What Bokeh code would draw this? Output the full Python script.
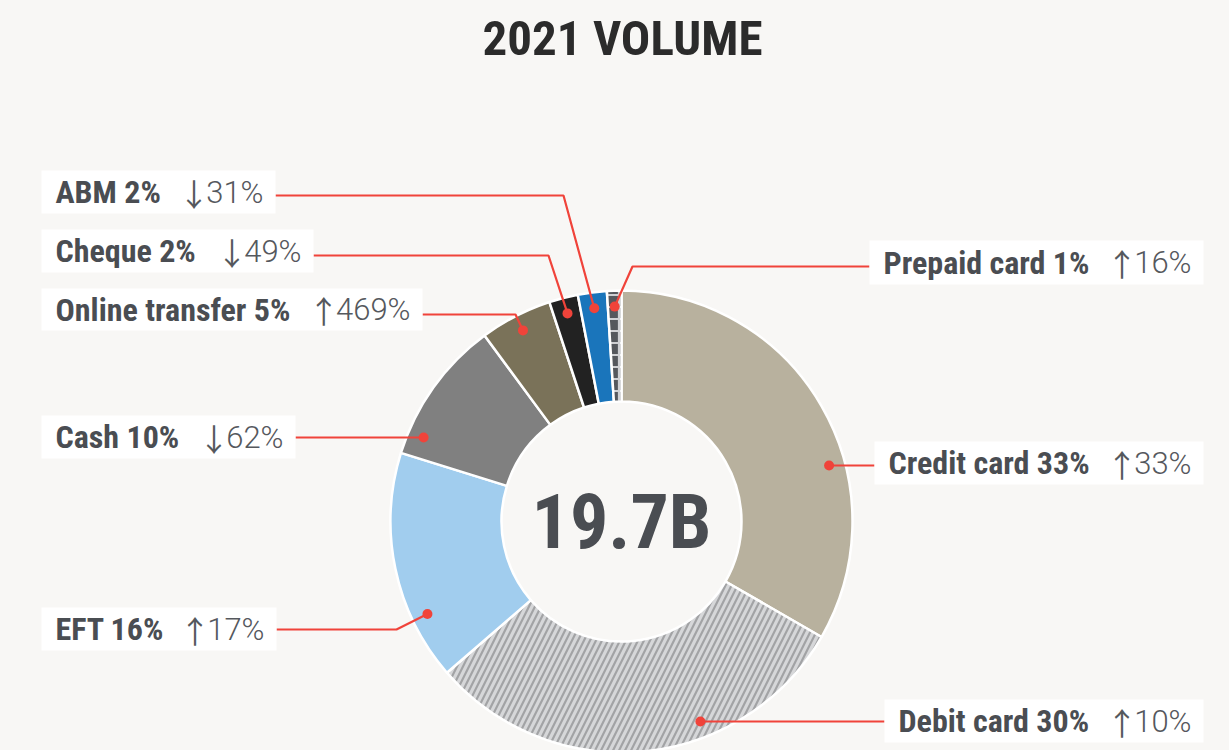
import numpy as np
from bokeh.plotting import figure
from bokeh.models import Range1d, ColumnDataSource
from bokeh.embed import file_html
from bokeh.resources import INLINE
from bokeh.core.properties import value

# ---------------- data ----------------
title_text = "2021 VOLUME"
total_label = "19.7B"
categories = ["Credit card", "Debit card", "EFT", "Cash", "Online transfer",
              "Cheque", "ABM", "Prepaid card"]
shares = [33, 30, 16, 10, 5, 2, 2, 1]            # share of volume, %
changes = [33, 10, 17, -62, 469, -49, -31, 16]    # change, %

# ---------------- styles ----------------
BG = "#f8f7f5"
fills = ["#b8b19e", "#d6d7d9", "#a1cdee", "#808080", "#7a7259", "#222222", "#1a75bb", "#55585d"]
hatches = [" ", "/", " ", " ", " ", " ", " ", "+"]
hatch_colors = ["#000000", "#a2a3a5", "#000000", "#000000", "#000000", "#000000", "#000000", "#cfd0d3"]
RED = "#f0433a"
FONT = "Roboto Condensed"
LIGHT = "Roboto Light"
ARROW_FONT = "Noto Sans CJK JP"
NUM_SIZE = 31

# ---------------- layout (page pixels) ----------------
W, H = 1229, 750
def Y(py):
    return H - py

CX, CY = 621, Y(521)
R_OUT, R_IN, R_DOT = 231, 120, 215

# label boxes: side, x0, x1, y0, y1, line y, elbow x (None = straight), anchor
layout = {
    "Credit card":     ("R", 874, 1203, 441, 484, 465, None, "level"),
    "Debit card":      ("R", 884, 1203, 699, 742, 721, None, "level"),
    "EFT":             ("L", 41, 276, 607, 650, 629, 396, 0.265),
    "Cash":            ("L", 41, 295, 415, 458, 437, None, "level"),
    "Online transfer": ("L", 41, 422, 288, 330, 314, 515, 0.5),
    "Cheque":          ("L", 41, 313, 229, 272, 255, 548, 0.5),
    "ABM":             ("L", 41, 275, 170, 213, 195, 563, 0.5),
    "Prepaid card":    ("R", 869, 1203, 240, 284, 266, 632, 0.5),
}

p = figure(width=W, height=H, x_range=Range1d(0, W), y_range=Range1d(0, H),
           output_backend="svg", toolbar_location=None, min_border=0)
p.axis.visible = False
p.grid.visible = False
p.outline_line_color = None
p.background_fill_color = BG
p.border_fill_color = BG

# ---------------- donut ----------------
sh = np.array(shares, dtype=float)
frac = sh / sh.sum()
cum_after = np.cumsum(frac)
cum_before = cum_after - frac
a_start = np.pi / 2 - 2 * np.pi * cum_after     # anticlockwise start
a_end = np.pi / 2 - 2 * np.pi * cum_before

src = ColumnDataSource(dict(start=a_start, end=a_end, fill=fills, hatch=hatches,
                            hcol=hatch_colors, name=categories))
p.annular_wedge(x=CX, y=CY, inner_radius=R_IN, outer_radius=R_OUT,
                start_angle="start", end_angle="end", source=src,
                fill_color="fill", hatch_pattern="hatch", hatch_color="hcol",
                hatch_scale=12, hatch_weight=2.2,
                line_color="white", line_width=2.5)

# center text
p.text(x=[CX], y=[CY], text=[total_label], text_font=value(FONT), text_font_style="bold",
       text_font_size="76px", text_color="#4a4d52", text_align="center", text_baseline="middle")

# title
p.text(x=[CX + 1], y=[Y(38)], text=[title_text], text_font=value(FONT), text_font_style="bold",
       text_font_size="49px", text_color="#2b2b2b", text_align="center", text_baseline="middle")

# ---------------- labels ----------------
bx0, bx1, by0, by1 = [], [], [], []
lx, ly = [], []
dx, dy = [], []
bold_x, bold_y, bold_t = [], [], []
num_x, num_y, num_t = [], [], []
arr_x, arr_y, arr_t = [], [], []
for i, c in enumerate(categories):
    side, x0, x1, y0, y1, liney, elbow, anchor = layout[c]
    bx0.append(x0); bx1.append(x1); by0.append(Y(y1)); by1.append(Y(y0))
    ymid = Y((y0 + y1) / 2)
    bold_x.append(x0 + 14); bold_y.append(ymid)
    bold_t.append(f"{c} {shares[i]}%")
    digits = f"{abs(changes[i])}%"
    num_x.append(x1 - 12); num_y.append(ymid)
    num_t.append(digits)
    # approximate width of the light number text (Roboto Light advances)
    wnum = (len(digits) - 1) * 0.5615 * NUM_SIZE + 0.73 * NUM_SIZE
    arr_x.append(x1 - 12 - wnum - 12); arr_y.append(ymid)
    arr_t.append("↑" if changes[i] >= 0 else "↓")
    # anchor dot
    if anchor == "level":
        yy = Y(liney) - CY
        xx = np.sqrt(R_DOT ** 2 - yy ** 2) * (1 if side == "R" else -1)
        px_, py_ = CX + xx, CY + yy
    else:
        ang = a_end[i] - anchor * (a_end[i] - a_start[i])
        px_, py_ = CX + R_DOT * np.cos(ang), CY + R_DOT * np.sin(ang)
    dx.append(px_); dy.append(py_)
    edge = x1 if side == "L" else x0
    if elbow is None:
        lx.append([edge, px_]); ly.append([Y(liney), py_])
    else:
        lx.append([edge, elbow, px_]); ly.append([Y(liney), Y(liney), py_])

p.multi_line(xs=lx, ys=ly, line_color=RED, line_width=2.2)
p.scatter(x=dx, y=dy, size=10, fill_color=RED, line_color=None)
p.quad(left=bx0, right=bx1, bottom=by0, top=by1, fill_color="white", line_color=None)
p.text(x=bold_x, y=bold_y, text=bold_t, text_font=value(FONT), text_font_style="bold",
       text_font_size="32px", text_color="#4a4d52", text_align="left", text_baseline="middle")
p.text(x=num_x, y=num_y, text=num_t, text_font=value(LIGHT), text_font_style="normal",
       text_font_size=f"{NUM_SIZE}px", text_color="#55585d", text_align="right", text_baseline="middle")
p.text(x=arr_x, y=arr_y, text=arr_t, text_font=value(ARROW_FONT), text_font_style="normal",
       text_font_size="31px", text_color="#55585d", text_align="center", text_baseline="middle")

style = "<style>html,body{background:%s;}</style>" % BG
open("out.html", "w").write(file_html(p, INLINE).replace("</head>", style + "</head>"))
